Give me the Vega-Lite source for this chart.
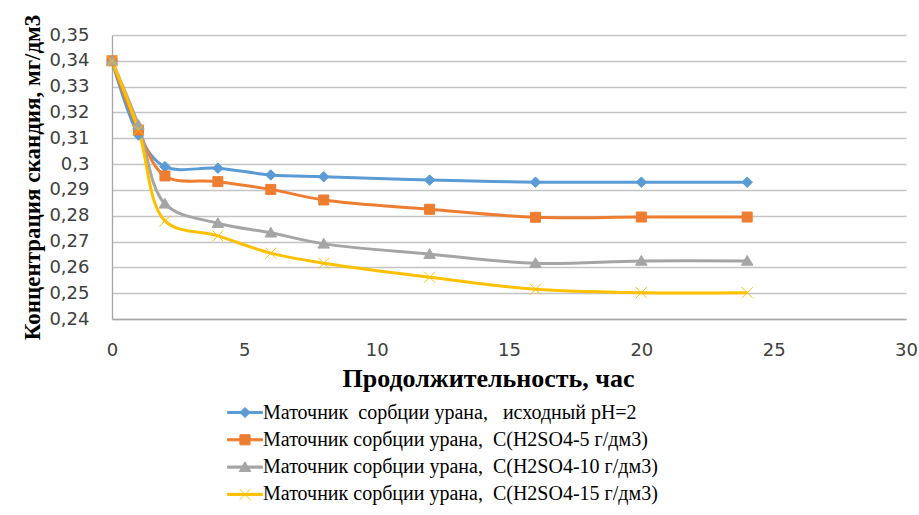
{
  "$schema": "https://vega.github.io/schema/vega-lite/v6.json",
  "autosize": {"type": "none"},
  "width": 794,
  "height": 284,
  "padding": {"left": 112, "top": 35, "right": 13, "bottom": 196},
  "background": "white",
  "config": {
    "view": {"stroke": null},
    "locale": {"number": {"decimal": ",", "thousands": " ", "grouping": [3], "currency": ["", ""]}},
    "axis": {
      "labelFont": "DejaVu Sans",
      "labelFontSize": 18,
      "labelColor": "#404040",
      "titleFont": "Liberation Serif",
      "titleFontSize": 24,
      "titleFontWeight": "bold",
      "titleColor": "#000000",
      "ticks": false,
      "tickSize": 0,
      "gridColor": "#c4c4c4",
      "gridWidth": 1.3,
      "domainColor": "#a6a6a6",
      "domainWidth": 1.3
    },
    "legend": {
      "labelFont": "Liberation Serif",
      "labelFontSize": 20,
      "labelColor": "#000000",
      "padding": 0
    }
  },
  "data": {
    "values": [
      {"t": 0, "c": 0.34, "s": "Маточник\u00a0 сорбции урана,\u00a0\u00a0 исходный pH=2"},
      {"t": 1, "c": 0.3113, "s": "Маточник\u00a0 сорбции урана,\u00a0\u00a0 исходный pH=2"},
      {"t": 2, "c": 0.299, "s": "Маточник\u00a0 сорбции урана,\u00a0\u00a0 исходный pH=2"},
      {"t": 4, "c": 0.2984, "s": "Маточник\u00a0 сорбции урана,\u00a0\u00a0 исходный pH=2"},
      {"t": 6, "c": 0.2958, "s": "Маточник\u00a0 сорбции урана,\u00a0\u00a0 исходный pH=2"},
      {"t": 8, "c": 0.2951, "s": "Маточник\u00a0 сорбции урана,\u00a0\u00a0 исходный pH=2"},
      {"t": 12, "c": 0.2938, "s": "Маточник\u00a0 сорбции урана,\u00a0\u00a0 исходный pH=2"},
      {"t": 16, "c": 0.293, "s": "Маточник\u00a0 сорбции урана,\u00a0\u00a0 исходный pH=2"},
      {"t": 20, "c": 0.293, "s": "Маточник\u00a0 сорбции урана,\u00a0\u00a0 исходный pH=2"},
      {"t": 24, "c": 0.293, "s": "Маточник\u00a0 сорбции урана,\u00a0\u00a0 исходный pH=2"},
      {"t": 0, "c": 0.34, "s": "Маточник сорбции урана,\u00a0 С(H2SO4-5 г/дм3)"},
      {"t": 1, "c": 0.3132, "s": "Маточник сорбции урана,\u00a0 С(H2SO4-5 г/дм3)"},
      {"t": 2, "c": 0.2954, "s": "Маточник сорбции урана,\u00a0 С(H2SO4-5 г/дм3)"},
      {"t": 4, "c": 0.2932, "s": "Маточник сорбции урана,\u00a0 С(H2SO4-5 г/дм3)"},
      {"t": 6, "c": 0.2902, "s": "Маточник сорбции урана,\u00a0 С(H2SO4-5 г/дм3)"},
      {"t": 8, "c": 0.2861, "s": "Маточник сорбции урана,\u00a0 С(H2SO4-5 г/дм3)"},
      {"t": 12, "c": 0.2825, "s": "Маточник сорбции урана,\u00a0 С(H2SO4-5 г/дм3)"},
      {"t": 16, "c": 0.2794, "s": "Маточник сорбции урана,\u00a0 С(H2SO4-5 г/дм3)"},
      {"t": 20, "c": 0.2795, "s": "Маточник сорбции урана,\u00a0 С(H2SO4-5 г/дм3)"},
      {"t": 24, "c": 0.2795, "s": "Маточник сорбции урана,\u00a0 С(H2SO4-5 г/дм3)"},
      {"t": 0, "c": 0.34, "s": "Маточник сорбции урана,\u00a0 С(H2SO4-10 г/дм3)"},
      {"t": 1, "c": 0.3151, "s": "Маточник сорбции урана,\u00a0 С(H2SO4-10 г/дм3)"},
      {"t": 2, "c": 0.2846, "s": "Маточник сорбции урана,\u00a0 С(H2SO4-10 г/дм3)"},
      {"t": 4, "c": 0.2771, "s": "Маточник сорбции урана,\u00a0 С(H2SO4-10 г/дм3)"},
      {"t": 6, "c": 0.2734, "s": "Маточник сорбции урана,\u00a0 С(H2SO4-10 г/дм3)"},
      {"t": 8, "c": 0.2691, "s": "Маточник сорбции урана,\u00a0 С(H2SO4-10 г/дм3)"},
      {"t": 12, "c": 0.2651, "s": "Маточник сорбции урана,\u00a0 С(H2SO4-10 г/дм3)"},
      {"t": 16, "c": 0.2616, "s": "Маточник сорбции урана,\u00a0 С(H2SO4-10 г/дм3)"},
      {"t": 20, "c": 0.2625, "s": "Маточник сорбции урана,\u00a0 С(H2SO4-10 г/дм3)"},
      {"t": 24, "c": 0.2625, "s": "Маточник сорбции урана,\u00a0 С(H2SO4-10 г/дм3)"},
      {"t": 0, "c": 0.34, "s": "Маточник сорбции урана,\u00a0 С(H2SO4-15 г/дм3)"},
      {"t": 1, "c": 0.3132, "s": "Маточник сорбции урана,\u00a0 С(H2SO4-15 г/дм3)"},
      {"t": 2, "c": 0.278, "s": "Маточник сорбции урана,\u00a0 С(H2SO4-15 г/дм3)"},
      {"t": 4, "c": 0.2722, "s": "Маточник сорбции урана,\u00a0 С(H2SO4-15 г/дм3)"},
      {"t": 6, "c": 0.2655, "s": "Маточник сорбции урана,\u00a0 С(H2SO4-15 г/дм3)"},
      {"t": 8, "c": 0.2616, "s": "Маточник сорбции урана,\u00a0 С(H2SO4-15 г/дм3)"},
      {"t": 12, "c": 0.2562, "s": "Маточник сорбции урана,\u00a0 С(H2SO4-15 г/дм3)"},
      {"t": 16, "c": 0.2515, "s": "Маточник сорбции урана,\u00a0 С(H2SO4-15 г/дм3)"},
      {"t": 20, "c": 0.2502, "s": "Маточник сорбции урана,\u00a0 С(H2SO4-15 г/дм3)"},
      {"t": 24, "c": 0.2502, "s": "Маточник сорбции урана,\u00a0 С(H2SO4-15 г/дм3)"}
    ]
  },
  "encoding": {
    "x": {
      "field": "t", "type": "quantitative",
      "scale": {"domain": [0, 30], "nice": false, "zero": false},
      "axis": {
        "title": "Продолжительность, час",
        "titleFontSize": 26,
        "values": [0, 5, 10, 15, 20, 25, 30],
        "grid": false,
        "labelPadding": 22,
        "labelFlush": false,
        "titleX": 376,
        "titlePadding": 6
      }
    },
    "y": {
      "field": "c", "type": "quantitative",
      "scale": {"domain": [0.24, 0.35], "nice": false, "zero": false},
      "axis": {
        "title": "Концентрация скандия, мг/дм3",
        "titleFontSize": 23,
        "values": [0.24, 0.25, 0.26, 0.27, 0.28, 0.29, 0.3, 0.31, 0.32, 0.33, 0.34, 0.35],
        "format": ".2~f",
        "labelPadding": 23,
        "labelFlush": false,
        "titlePadding": 4
      }
    }
  },
  "layer": [
    {
      "mark": {"type": "line", "interpolate": "catmull-rom", "strokeWidth": 3},
      "encoding": {
        "stroke": {
          "field": "s", "type": "nominal",
          "scale": {
            "domain": [
              "Маточник\u00a0 сорбции урана,\u00a0\u00a0 исходный pH=2",
              "Маточник сорбции урана,\u00a0 С(H2SO4-5 г/дм3)",
              "Маточник сорбции урана,\u00a0 С(H2SO4-10 г/дм3)",
              "Маточник сорбции урана,\u00a0 С(H2SO4-15 г/дм3)"
            ],
            "range": ["#5B9BD5", "#ED7D31", "#A5A5A5", "#FFC000"]
          },
          "legend": {
            "title": null, "orient": "none", "legendX": 115, "legendY": 364, "direction": "vertical",
            "symbolSize": 1225, "clipHeight": 27, "rowPadding": 0.3, "labelOffset": 0, "labelLimit": 700,
            "labelFont": "Liberation Serif", "labelFontSize": 20, "labelColor": "#000000",
            "encode": {"symbols": {"update": {
              "shape": {"signal": "['M-1,-0.06L1,-0.06L1,0.06L-1,0.06Z M0,-0.29L0.29,0L0,0.29L-0.29,0Z', 'M-1,-0.06L1,-0.06L1,0.06L-1,0.06Z M-0.29,-0.29L0.29,-0.29L0.29,0.29L-0.29,0.29Z', 'M-1,-0.06L1,-0.06L1,0.06L-1,0.06Z M0,-0.31L0.33,0.25L-0.33,0.25Z', 'M-1,-0.06L1,-0.06L1,0.06L-1,0.06Z M-0.3,-0.3L0.3,0.3M-0.3,0.3L0.3,-0.3'][indexof(domain('fill'), datum.value)]"},
              "strokeWidth": {"value": 1}, "opacity": {"value": 1}, "fillOpacity": {"value": 1}
            }}}
          }
        }
      }
    },
    {
      "mark": {"type": "point", "filled": true, "size": 100, "strokeWidth": 1, "opacity": 1},
      "encoding": {
        "fill": {
          "field": "s", "type": "nominal",
          "scale": {
            "domain": [
              "Маточник\u00a0 сорбции урана,\u00a0\u00a0 исходный pH=2",
              "Маточник сорбции урана,\u00a0 С(H2SO4-5 г/дм3)",
              "Маточник сорбции урана,\u00a0 С(H2SO4-10 г/дм3)",
              "Маточник сорбции урана,\u00a0 С(H2SO4-15 г/дм3)"
            ],
            "range": ["#5B9BD5", "#ED7D31", "#A5A5A5", "#FFC000"]
          },
          "legend": {
            "title": null, "orient": "none", "legendX": 115, "legendY": 364, "direction": "vertical",
            "symbolSize": 1225, "clipHeight": 27, "rowPadding": 0.3, "labelOffset": 0, "labelLimit": 700,
            "labelFont": "Liberation Serif", "labelFontSize": 20, "labelColor": "#000000",
            "encode": {"symbols": {"update": {
              "shape": {"signal": "['M-1,-0.06L1,-0.06L1,0.06L-1,0.06Z M0,-0.29L0.29,0L0,0.29L-0.29,0Z', 'M-1,-0.06L1,-0.06L1,0.06L-1,0.06Z M-0.29,-0.29L0.29,-0.29L0.29,0.29L-0.29,0.29Z', 'M-1,-0.06L1,-0.06L1,0.06L-1,0.06Z M0,-0.31L0.33,0.25L-0.33,0.25Z', 'M-1,-0.06L1,-0.06L1,0.06L-1,0.06Z M-0.3,-0.3L0.3,0.3M-0.3,0.3L0.3,-0.3'][indexof(domain('fill'), datum.value)]"},
              "strokeWidth": {"value": 1}, "opacity": {"value": 1}, "fillOpacity": {"value": 1}
            }}}
          }
        },
        "stroke": {
          "field": "s", "type": "nominal",
          "legend": {
            "title": null, "orient": "none", "legendX": 115, "legendY": 364, "direction": "vertical",
            "symbolSize": 1225, "clipHeight": 27, "rowPadding": 0.3, "labelOffset": 0, "labelLimit": 700,
            "labelFont": "Liberation Serif", "labelFontSize": 20, "labelColor": "#000000",
            "encode": {"symbols": {"update": {
              "shape": {"signal": "['M-1,-0.06L1,-0.06L1,0.06L-1,0.06Z M0,-0.29L0.29,0L0,0.29L-0.29,0Z', 'M-1,-0.06L1,-0.06L1,0.06L-1,0.06Z M-0.29,-0.29L0.29,-0.29L0.29,0.29L-0.29,0.29Z', 'M-1,-0.06L1,-0.06L1,0.06L-1,0.06Z M0,-0.31L0.33,0.25L-0.33,0.25Z', 'M-1,-0.06L1,-0.06L1,0.06L-1,0.06Z M-0.3,-0.3L0.3,0.3M-0.3,0.3L0.3,-0.3'][indexof(domain('fill'), datum.value)]"},
              "strokeWidth": {"value": 1}, "opacity": {"value": 1}, "fillOpacity": {"value": 1}
            }}}
          }
        },
        "shape": {
          "field": "s", "type": "nominal",
          "legend": null,
          "scale": {
            "range": [
              "M0,-1.1L1.15,0.85L-1.15,0.85Z",
              "M-1.1,-1.1L1.1,1.1M-1.1,1.1L1.1,-1.1",
              "M-1,-1L1,-1L1,1L-1,1Z",
              "M0,-1.05L1.05,0L0,1.05L-1.05,0Z"
            ]
          }
        }
      }
    }
  ]
}
